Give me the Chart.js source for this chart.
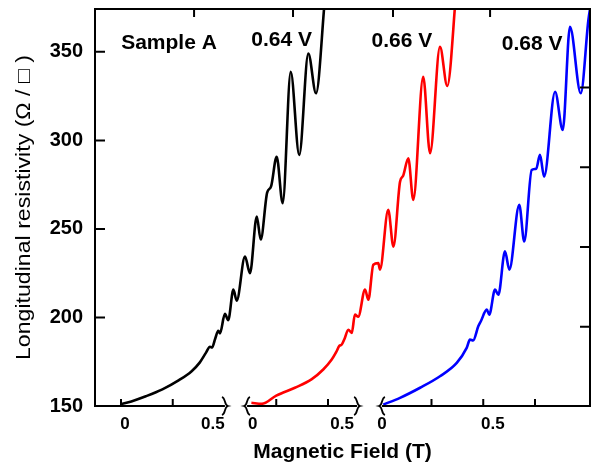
<!DOCTYPE html>
<html>
<head>
<meta charset="utf-8">
<script src="https://cdn.jsdelivr.net/npm/chart.js@4.4.1/dist/chart.umd.min.js"></script>
<style>
html,body{margin:0;padding:0;background:#fff;}
#wrap{width:594px;height:468px;}
</style>
</head>
<body>
<div id="wrap"><canvas id="c" width="594" height="468"></canvas></div>
<script>
// ---------------- data ----------------
const seriesNames  = ["0.64 V", "0.66 V", "0.68 V"];
const seriesColors = ["#000000", "#ff0000", "#0000ff"];

// Magnetic field (T) and longitudinal resistivity (Ohm/sq) for each gate voltage
const field064 = [0.00,0.05,0.12,0.20,0.28,0.34,0.38,0.41,0.43,0.44,0.455,0.47,0.478,0.502,0.518,0.543,0.559,0.599,0.623,0.656,0.675,0.706,0.725,0.752,0.781,0.820,0.861,0.905,0.942,0.985];
const rho064   = [151.0,152.6,155.5,159.4,164.6,169.5,174.5,180.0,183.5,183.0,188.0,192.5,191.0,202.0,198.5,215.7,209.5,234.4,225.0,257.0,244.0,270.5,274.0,290.8,264.5,338.7,291.8,349.0,326.6,380.0];

const field066 = [0.00,0.05,0.12,0.21,0.29,0.347,0.388,0.41,0.425,0.435,0.45,0.468,0.485,0.50,0.516,0.549,0.565,0.589,0.613,0.621,0.661,0.686,0.718,0.733,0.758,0.782,0.830,0.863,0.911,0.946,0.99];
const rho066   = [151.8,151.2,155.9,160.3,165.0,170.6,176.2,180.5,184.0,184.5,188.0,193.1,191.3,201.6,200.4,215.7,210.0,229.8,230.7,227.0,260.8,240.0,276.7,280.0,289.9,266.4,335.9,292.7,352.8,330.7,385.0];

const field068 = [0.006,0.087,0.184,0.28,0.361,0.409,0.425,0.44,0.465,0.478,0.506,0.518,0.546,0.562,0.594,0.615,0.663,0.687,0.723,0.745,0.763,0.783,0.836,0.873,0.908,0.96,0.997,1.01];
const rho068   = [150.8,154.6,160.3,166.8,174.3,182.8,187.5,187.0,195.0,198.0,204.4,201.6,215.7,212.8,237.3,227.0,263.6,242.9,283.3,284.0,291.8,279.5,327.5,305.9,364.1,326.6,368.0,378.0];

// broken x axis: where each panel's B = 0 sits on the shared axis, and each panel's extent
const segmentOffsets = [0, 0.63, 1.261];
const segmentRanges  = [[-0.1256, 0.502], [-0.021, 0.51], [0, 1.005]];

// tick labels
const yTicks = [150, 200, 250, 300, 350];
const xTickLabels    = ["0", "0.5", "0", "0.5", "0", "0.5"];
const xTickPositions = [0.019, 0.444, 0.636, 1.068, 1.261, 1.796];   // on shared axis
const xMinorTicks    = [0, 0.25, 0.75, 1.0, 1.5, 1.75, 2.0];          // tick marks on bottom axis
const xTopTicks      = [0.353, 0.831, 1.314, 1.783];
const yRightTicks    = [194.8, 239.8, 284.8, 329.8];

const annotations = [
  {text: "Sample A", x: 0.232, y: 354.8},
  {text: "0.64 V",  x: 0.776, y: 356.5},
  {text: "0.66 V",  x: 1.357, y: 356.1},
  {text: "0.68 V",  x: 1.986, y: 354.6}
];
const yTitle = "Longitudinal resistivity (\u03A9 / \u25A1 )";
const xTitle = "Magnetic Field (T)";

// ---------------- chart ----------------
const fields = [field064, field066, field068];
const rhos   = [rho064, rho066, rho068];
const FONT = "'Liberation Sans', Arial, Helvetica, sans-serif";

const datasets = seriesNames.map((name, k) => ({
  label: name,
  data: fields[k].map((b, i) => ({x: b + segmentOffsets[k], y: rhos[k][i]})),
  borderColor: seriesColors[k],
  borderWidth: 2.6,
  pointRadius: 0,
  fill: false,
  cubicInterpolationMode: 'monotone',
  clip: 0
}));

function brace(ctx, x0, y0, dir) {
  // dir = 1 : "}" closing a segment ; dir = -1 : "{" opening one
  ctx.beginPath();
  ctx.moveTo(x0 - 3*dir, y0 - 9);
  ctx.bezierCurveTo(x0 + 1*dir, y0 - 8, x0 - 1*dir, y0 - 1, x0 + 3*dir, y0);
  ctx.bezierCurveTo(x0 - 1*dir, y0 + 1, x0 + 1*dir, y0 + 8, x0 - 3*dir, y0 + 9);
  ctx.stroke();
}

const framePlugin = {
  id: 'frame',
  afterDatasetsDraw(chart) {
    const {ctx, chartArea: a, scales: {x, y}} = chart;
    ctx.save();
    ctx.strokeStyle = '#000';
    ctx.lineWidth = 2;
    ctx.lineCap = 'square';
    ctx.beginPath();
    ctx.moveTo(a.left, a.bottom);
    ctx.lineTo(a.left, a.top);
    ctx.lineTo(a.right, a.top);
    ctx.lineTo(a.right, a.bottom);
    ctx.stroke();
    ctx.lineCap = 'butt';
    segmentRanges.forEach(([b0, b1], i) => {
      const x0 = x.getPixelForValue(b0 + segmentOffsets[i]);
      const x1 = x.getPixelForValue(b1 + segmentOffsets[i]);
      ctx.beginPath();
      ctx.moveTo(x0, a.bottom); ctx.lineTo(x1, a.bottom);
      ctx.stroke();
      ctx.lineWidth = 1.8;
      if (i > 0) brace(ctx, x0, a.bottom, -1);
      if (i < segmentRanges.length - 1) brace(ctx, x1, a.bottom, 1);
      ctx.lineWidth = 2;
    });
    ctx.beginPath();
    yTicks.forEach(v => { const p = y.getPixelForValue(v); ctx.moveTo(a.left, p); ctx.lineTo(a.left + 10, p); });
    yRightTicks.forEach(v => { const p = y.getPixelForValue(v); ctx.moveTo(a.right, p); ctx.lineTo(a.right - 10, p); });
    xTopTicks.forEach(v => { const p = x.getPixelForValue(v); ctx.moveTo(p, a.top); ctx.lineTo(p, a.top + 8); });
    xMinorTicks.forEach(v => { const p = x.getPixelForValue(v); ctx.moveTo(p, a.bottom); ctx.lineTo(p, a.bottom - 7); });
    ctx.stroke();

    // annotations
    ctx.fillStyle = '#000';
    ctx.font = "bold 21px " + FONT;
    ctx.textAlign = 'center';
    ctx.textBaseline = 'middle';
    annotations.forEach(t => ctx.fillText(t.text, x.getPixelForValue(t.x), y.getPixelForValue(t.y)));

    // y title (stretched to the reference length)
    ctx.font = "20px " + FONT;
    const w = ctx.measureText(yTitle).width;
    ctx.translate(24, (a.top + a.bottom) / 2);
    ctx.rotate(-Math.PI / 2);
    ctx.scale(305 / w, 1);
    ctx.fillText(yTitle, 0, 0);
    ctx.restore();
  }
};

new Chart(document.getElementById('c'), {
  type: 'line',
  data: {datasets},
  options: {
    responsive: false,
    animation: false,
    devicePixelRatio: 1,
    layout: {padding: {top: 9, right: 4, left: 0, bottom: 0}},
    plugins: {legend: {display: false}, tooltip: {enabled: false}},
    scales: {
      x: {
        type: 'linear',
        min: -0.1256, max: 2.2657,
        grid: {display: false, drawTicks: false},
        border: {display: false},
        afterBuildTicks: s => { s.ticks = xTickPositions.map(v => ({value: v})); },
        afterFit: s => { s.height = 62; s.paddingLeft = 0; s.paddingRight = 0; },
        ticks: {
          autoSkip: false, maxRotation: 0, padding: 8,
          color: '#000',
          font: {family: FONT, size: 17, weight: 'bold'},
          callback: (v, i) => xTickLabels[i]
        },
        title: {display: true, text: xTitle, color: '#000',
                font: {family: FONT, size: 21, weight: 'bold'}, padding: {top: 0, bottom: 3}}
      },
      y: {
        type: 'linear',
        min: 150, max: 374.2,
        grid: {display: false, drawTicks: false},
        border: {display: false},
        afterBuildTicks: s => { s.ticks = yTicks.map(v => ({value: v})); },
        afterFit: s => { s.width = 95; s.paddingTop = 0; s.paddingBottom = 0; },
        ticks: {
          autoSkip: false, padding: 12, color: '#000',
          font: {family: FONT, size: 20, weight: 'bold'}
        }
      }
    }
  },
  plugins: [framePlugin]
});
</script>
</body>
</html>
